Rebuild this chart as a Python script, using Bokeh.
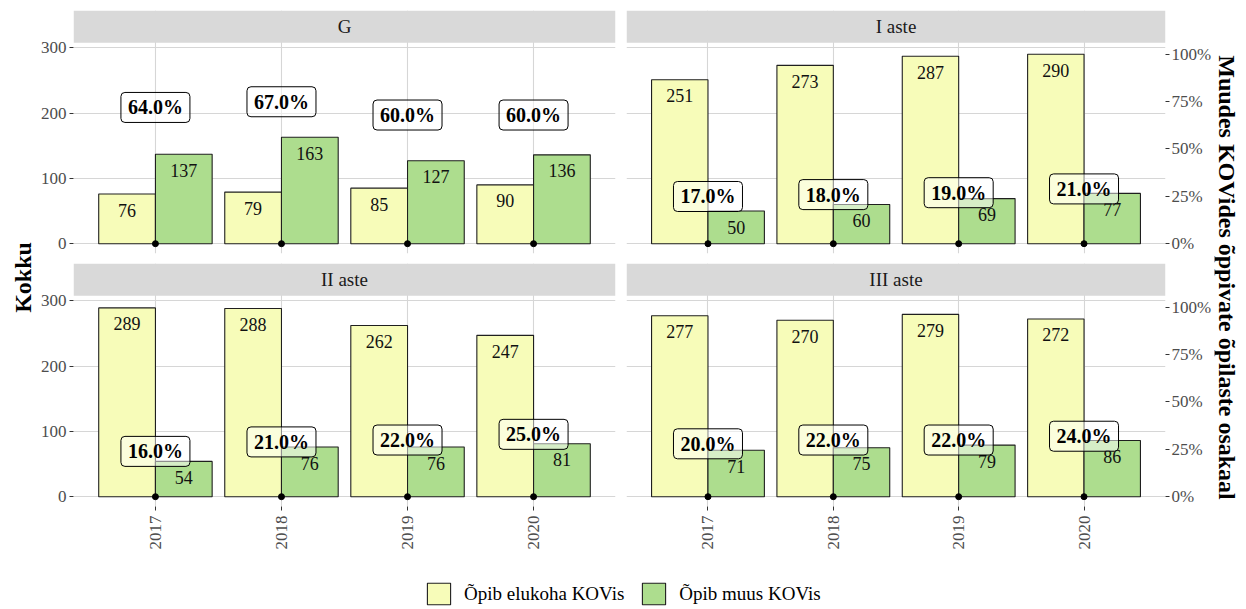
import math
from bokeh.plotting import figure
from bokeh.models import (ColumnDataSource, FactorRange, Range1d, LinearAxis, CategoricalAxis,
                          FixedTicker, CategoricalTicker, Grid, NumeralTickFormatter, BoxAnnotation,
                          Label, Legend, LegendItem)
from bokeh.layouts import row, column
from bokeh.transform import dodge
from bokeh.core.properties import value
from bokeh.embed import file_html
from bokeh.resources import INLINE

# ---------------- data ----------------
years = ["2017", "2018", "2019", "2020"]
panel_titles = ["G", "I aste", "II aste", "III aste"]
series_names = ["Õpib elukoha KOVis", "Õpib muus KOVis"]

g_elukoha = [76, 79, 85, 90]
g_muus = [137, 163, 127, 136]
g_pct = [64, 67, 60, 60]

i_elukoha = [251, 273, 287, 290]
i_muus = [50, 60, 69, 77]
i_pct = [17, 18, 19, 21]

ii_elukoha = [289, 288, 262, 247]
ii_muus = [54, 76, 76, 81]
ii_pct = [16, 21, 22, 25]

iii_elukoha = [277, 270, 279, 272]
iii_muus = [71, 75, 79, 86]
iii_pct = [20, 22, 22, 24]

left_ticks = [0, 100, 200, 300]
right_ticks = [0, 0.25, 0.5, 0.75, 1.0]

# ---------------- style ----------------
FONT = "Liberation Serif"
YELLOW = "#F7FCB9"
GREEN = "#ADDD8E"
OUTLINE = "#1F1F1F"
GRID = "#D6D6D6"
STRIP = "#D9D9D9"
TICK_TXT = "#4D4D4D"

K = 196.0 / 300.0          # px per unit
FRAME_H = 243
Y0 = -15.0
Y1 = Y0 + FRAME_H / K
STRIP_BOTTOM = 307.5
SCALE = max(g_elukoha + g_muus + i_elukoha + i_muus + ii_elukoha + ii_muus + iii_elukoha + iii_muus)
PANELS_H = 560


def style_axis(ax, standoff=3):
    ax.axis_line_color = None
    ax.major_tick_line_color = "#333333"
    ax.major_tick_line_width = 1
    ax.major_tick_out = 4
    ax.major_tick_in = 0
    ax.minor_tick_line_color = None
    ax.major_label_text_font = FONT
    ax.major_label_text_font_size = "17px"
    ax.major_label_text_color = TICK_TXT
    ax.major_label_standoff = standoff


def make_panel(title, elukoha, muus, pct, col, rowi):
    left = col == 0
    bottom = rowi == 1
    width = 584 if left else 594
    height = 258 if rowi == 0 else 302
    p = figure(width=width, height=height,
               x_range=FactorRange(*years, range_padding=0.15, range_padding_units="absolute"),
               y_range=Range1d(Y0, Y1),
               x_axis_location=None, y_axis_location=None,
               toolbar_location=None, output_backend="svg",
               min_border_left=37 if left else 6,
               min_border_right=5 if left else 46,
               min_border_top=10 if rowi == 0 else 5,
               min_border_bottom=5 if rowi == 0 else 54,
               outline_line_color=None, background_fill_color="white",
               border_fill_color="white")
    p.title.visible = False
    p.center = []

    p.add_layout(Grid(dimension=0, ticker=CategoricalTicker(), grid_line_color=GRID, grid_line_width=1.1))
    p.add_layout(Grid(dimension=1, ticker=FixedTicker(ticks=left_ticks), grid_line_color=GRID, grid_line_width=1.1))

    if left:
        ax = LinearAxis(ticker=FixedTicker(ticks=left_ticks))
        style_axis(ax)
        p.add_layout(ax, "left")
    else:
        p.extra_y_ranges = {"pct": Range1d(Y0 / SCALE, Y1 / SCALE)}
        ax = LinearAxis(y_range_name="pct", ticker=FixedTicker(ticks=right_ticks),
                        formatter=NumeralTickFormatter(format="0%"))
        style_axis(ax, standoff=2)
        p.add_layout(ax, "right")
    if bottom:
        bx = CategoricalAxis()
        style_axis(bx, standoff=5)
        bx.major_label_orientation = math.pi / 2
        p.add_layout(bx, "below")

    src = ColumnDataSource(dict(
        year=years, elukoha=elukoha, muus=muus,
        elukoha_txt=[str(v) for v in elukoha], muus_txt=[str(v) for v in muus],
        pct_y=[v / 100.0 * SCALE for v in pct],
        pct_txt=["%.1f%%" % v for v in pct],
    ))

    p.vbar(x=dodge("year", -0.225, range=p.x_range), top="elukoha", width=0.45, bottom=0,
           source=src, fill_color=YELLOW, line_color=OUTLINE, line_width=1.1)
    p.vbar(x=dodge("year", 0.225, range=p.x_range), top="muus", width=0.45, bottom=0,
           source=src, fill_color=GREEN, line_color=OUTLINE, line_width=1.1)

    p.text(x=dodge("year", -0.225, range=p.x_range), y="elukoha", text="elukoha_txt", source=src,
           text_font=value(FONT), text_font_size="18px", text_color="#111111",
           text_align="center", text_baseline="middle", y_offset=16)
    p.text(x=dodge("year", 0.225, range=p.x_range), y="muus", text="muus_txt", source=src,
           text_font=value(FONT), text_font_size="18px", text_color="#111111",
           text_align="center", text_baseline="middle", y_offset=16)

    p.scatter(x="year", y=0, source=src, size=6, color="black")

    p.text(x="year", y="pct_y", text="pct_txt", source=src,
           text_font=value(FONT), text_font_size="20px", text_font_style="bold",
           text_color="black", text_align="center", text_baseline="bottom",
           background_fill_color="white", background_fill_alpha=0.5,
           border_line_color="black", border_line_width=1, border_radius=4,
           padding=(7, 4), y_offset=0)

    p.add_layout(BoxAnnotation(bottom=STRIP_BOTTOM, fill_color=STRIP, fill_alpha=1.0,
                               line_color=None, level="annotation"))
    p.add_layout(Label(x=2.0, y=(STRIP_BOTTOM + Y1) / 2, text=title, text_font=FONT,
                       text_font_size="19px", text_color="#1A1A1A",
                       text_align="center", text_baseline="middle"))
    return p


def title_fig(width, text, xfrac, angle):
    f = figure(width=width, height=PANELS_H, x_range=Range1d(0, 1), y_range=Range1d(0, 1),
               x_axis_location=None, y_axis_location=None, toolbar_location=None,
               output_backend="svg", min_border=0, outline_line_color=None,
               background_fill_color="white", border_fill_color="white")
    f.title.visible = False
    f.center = []
    f.add_layout(Label(x=xfrac, y=1 - 277 / PANELS_H, text=text, angle=angle, text_font=FONT,
                       text_font_size="24px", text_font_style="bold", text_color="black",
                       text_align="center", text_baseline="middle"))
    return f


p_g = make_panel(panel_titles[0], g_elukoha, g_muus, g_pct, 0, 0)
p_i = make_panel(panel_titles[1], i_elukoha, i_muus, i_pct, 1, 0)
p_ii = make_panel(panel_titles[2], ii_elukoha, ii_muus, ii_pct, 0, 1)
p_iii = make_panel(panel_titles[3], iii_elukoha, iii_muus, iii_pct, 1, 1)

lt = title_fig(36, "Kokku", 22 / 36, math.pi / 2)
rt = title_fig(32, "Muudes KOVides õppivate õpilaste osakaal", 12 / 32, -math.pi / 2)

# legend strip (swatches come from hidden bar renderers)
lg = figure(width=1246, height=48, x_range=FactorRange(*years), y_range=Range1d(0, 1),
            x_axis_location=None, y_axis_location=None, toolbar_location=None,
            output_backend="svg", min_border=0, outline_line_color=None,
            background_fill_color="white", border_fill_color="white")
lg.title.visible = False
lg.center = []
lsrc = ColumnDataSource(dict(year=years, elukoha=g_elukoha, muus=g_muus))
r1 = lg.vbar(x="year", top="elukoha", width=0.45, source=lsrc, fill_color=YELLOW,
             line_color=OUTLINE, line_width=1.1, visible=False)
r2 = lg.vbar(x="year", top="muus", width=0.45, source=lsrc, fill_color=GREEN,
             line_color=OUTLINE, line_width=1.1, visible=False)
legend = Legend(items=[LegendItem(label=series_names[0], renderers=[r1]),
                       LegendItem(label=series_names[1], renderers=[r2])],
                orientation="horizontal", location=(424, 1),
                glyph_width=29, glyph_height=27, label_standoff=11, spacing=15,
                padding=0, margin=0, border_line_color=None, background_fill_alpha=0,
                inactive_fill_alpha=0, click_policy="none",
                label_text_font=FONT, label_text_font_size="19px", label_text_color="black")
lg.add_layout(legend)

panels = column(row(p_g, p_i, spacing=0), row(p_ii, p_iii, spacing=0), spacing=0)
main = row(lt, panels, rt, spacing=0)
layout = column(main, lg, spacing=0)

open("out.html", "w").write(file_html(layout, INLINE))
